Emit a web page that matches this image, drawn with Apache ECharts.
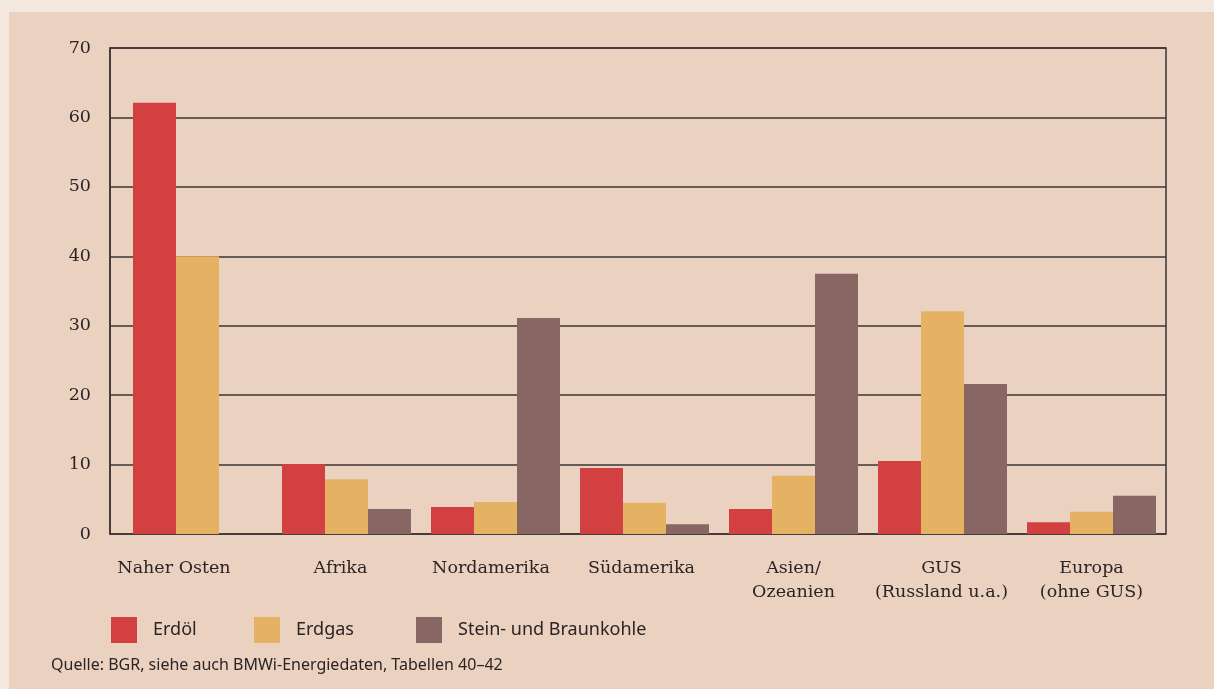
<!DOCTYPE html>
<html>
<head>
<meta charset="utf-8">
<script src="https://cdn.jsdelivr.net/npm/echarts@6/dist/echarts.min.js"></script>
<style>
  html, body { margin: 0; padding: 0; background: #f5e8df; }
  #chart { width: 1214px; height: 689px; }
</style>
</head>
<body>
<div id="chart"></div>
<script>
// Reserven nach Regionen (Anteil in %)
var regions = ['Naher Osten', 'Afrika', 'Nordamerika', 'Südamerika', 'Asien/\nOzeanien', 'GUS\n(Russland u.a.)', 'Europa\n(ohne GUS)'];
var erdoel = [62.1, 10.1, 3.9, 9.5, 3.6, 10.5, 1.7];
var erdgas = [40.0, 7.9, 4.6, 4.5, 8.4, 32.1, 3.2];
var kohle = [0, 3.6, 31.1, 1.4, 37.5, 21.6, 5.5];
var yTicks = [0, 10, 20, 30, 40, 50, 60, 70];
var seriesNames = ['Erdöl', 'Erdgas', 'Stein- und Braunkohle'];

var colors = ['#d24041', '#e4b262', '#876664'];
var textColor = '#2b2424';
var lineColor = '#3b3333';
// labels in the original sit a little left of their bar groups
var labelShift = [47, 12, 9, 6, 0, 2, 0];

var chart = echarts.init(document.getElementById('chart'));

var gridTop = 48, gridBottom = 155, gridRight = 48;

function legendAt(i, left) {
  return {
    data: [seriesNames[i]],
    left: left,
    top: 617,
    padding: 0,
    icon: 'rect',
    itemWidth: 26,
    itemHeight: 26,
    selectedMode: false,
    textStyle: {
      fontFamily: 'Noto Sans',
      fontSize: 18,
      color: textColor,
      padding: [0, 0, 0, 11]
    }
  };
}

chart.setOption({
  backgroundColor: '#f5e8df',
  animation: false,
  graphic: [
    {
      type: 'rect',
      z: -10,
      shape: { x: 9, y: 12, width: 1214, height: 689 },
      style: { fill: '#ebd1c0' }
    },
    {
      type: 'text',
      left: 51,
      top: 657,
      style: {
        text: 'Quelle: BGR, siehe auch BMWi-Energiedaten, Tabellen 40–42',
        fontFamily: 'Noto Sans',
        fontSize: 16,
        fill: textColor
      }
    }
  ],
  legend: [legendAt(0, 111), legendAt(1, 254), legendAt(2, 416)],
  grid: [
    {
      left: 110, right: gridRight, top: gridTop, bottom: gridBottom,
      show: true, borderColor: lineColor, borderWidth: 1.5,
      backgroundColor: 'transparent'
    },
    {
      left: 123, right: gridRight, top: gridTop, bottom: gridBottom
    }
  ],
  xAxis: [
    {
      gridIndex: 0, type: 'value', show: false
    },
    {
      gridIndex: 1,
      type: 'category',
      data: regions.map(function (r, i) {
        return { value: r, textStyle: { padding: [0, labelShift[i], 0, 0] } };
      }),
      axisLine: { show: false },
      axisTick: { show: false },
      axisLabel: {
        interval: 0,
        margin: 22,
        fontFamily: 'DejaVu Serif',
        fontSize: 17.5,
        lineHeight: 24,
        color: textColor
      }
    }
  ],
  yAxis: [
    {
      gridIndex: 0,
      type: 'value',
      min: yTicks[0],
      max: yTicks[yTicks.length - 1],
      interval: 10,
      axisLine: { show: true, lineStyle: { color: lineColor, width: 1.5 } },
      axisTick: { show: false },
      axisLabel: {
        margin: 19,
        fontFamily: 'DejaVu Serif',
        fontSize: 17.5,
        color: textColor
      },
      splitLine: { show: true, lineStyle: { color: lineColor, width: 1.5 } }
    },
    {
      gridIndex: 1,
      type: 'value',
      min: yTicks[0],
      max: yTicks[yTicks.length - 1],
      show: false,
      splitLine: { show: false }
    }
  ],
  series: [erdoel, erdgas, kohle].map(function (vals, i) {
    return {
      name: seriesNames[i],
      type: 'bar',
      xAxisIndex: 1,
      yAxisIndex: 1,
      data: vals,
      barWidth: 43,
      barGap: '0%',
      itemStyle: { color: colors[i] },
      z: 3
    };
  })
});
</script>
</body>
</html>
